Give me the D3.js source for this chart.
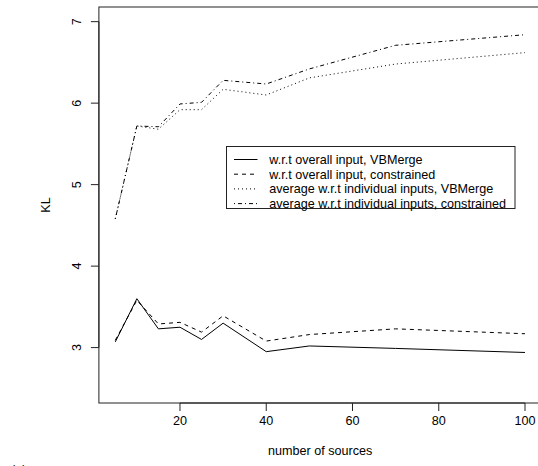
<!DOCTYPE html>
<html><head><meta charset="utf-8">
<script src="https://cdn.jsdelivr.net/npm/d3@7"></script>
<style>body{margin:0;background:#fff}svg{display:block}text{font-family:"Liberation Sans",Arial,sans-serif;fill:#000}</style>
</head><body>
<svg id="c" width="538" height="466"></svg>
<script>
const sources = [5, 10, 15, 20, 25, 30, 40, 50, 70, 100];
const overallVB = [3.07, 3.60, 3.23, 3.25, 3.10, 3.30, 2.95, 3.02, 2.99, 2.94];
const overallCon = [3.09, 3.58, 3.29, 3.31, 3.19, 3.39, 3.08, 3.16, 3.23, 3.17];
const avgVB = [4.58, 5.72, 5.68, 5.92, 5.92, 6.17, 6.10, 6.31, 6.48, 6.62];
const avgCon = [4.58, 5.72, 5.71, 5.99, 6.01, 6.28, 6.235, 6.42, 6.71, 6.84];
const xTicks = [20, 40, 60, 80, 100];
const yTicks = [3, 4, 5, 6, 7];
const seriesNames = ["w.r.t overall input, VBMerge", "w.r.t overall input, constrained",
  "average w.r.t individual inputs, VBMerge", "average w.r.t individual inputs, constrained"];
const dashes = [null, "4,4", "1,3", "1,3,4,3"];
const seriesVals = [overallVB, overallCon, avgVB, avgCon];

const svg = d3.select("#c");
const FS = "12.6px";
const xD = [5, 100], yD = [2.5, 7];
const xe = (xD[1]-xD[0])*0.04, ye = (yD[1]-yD[0])*0.04;
const x = d3.scaleLinear().domain([xD[0]-xe, xD[1]+xe]).range([98.9, 541.4]);
const y = d3.scaleLinear().domain([yD[0]-ye, yD[1]+ye]).range([403, 7]);

// box
svg.append("rect").attr("x", x.range()[0]).attr("y", y.range()[1])
  .attr("width", x.range()[1]-x.range()[0]).attr("height", y.range()[0]-y.range()[1])
  .attr("fill","none").attr("stroke","#222").attr("stroke-width",1);

// x axis
const xa = svg.append("g").attr("transform", `translate(0,${y.range()[0]})`);
xa.append("line").attr("x1", x(xTicks[0])).attr("x2", x(xTicks[xTicks.length-1])).attr("stroke","#222");
xTicks.forEach(t => {
  xa.append("line").attr("x1", x(t)).attr("x2", x(t)).attr("y1", 0).attr("y2", 8).attr("stroke","#222");
  xa.append("text").attr("x", x(t)).attr("y", 21.5).attr("text-anchor","middle").style("font-size",FS).text(t);
});
svg.append("text").attr("x", (x.range()[0]+x.range()[1])/2).attr("y", 455).attr("text-anchor","middle").style("font-size",FS).text("number of sources");

// y axis
const ya = svg.append("g").attr("transform", `translate(${x.range()[0]},0)`);
ya.append("line").attr("y1", y(yTicks[0])).attr("y2", y(yTicks[yTicks.length-1])).attr("stroke","#222");
yTicks.forEach(t => {
  ya.append("line").attr("x1", -8).attr("x2", 0).attr("y1", y(t)).attr("y2", y(t)).attr("stroke","#222");
  ya.append("text").attr("transform", `translate(-17.5,${y(t)}) rotate(-90)`).attr("text-anchor","middle").style("font-size",FS).text(t);
});
svg.append("text").attr("transform", `translate(49.5,${(y.range()[0]+y.range()[1])/2}) rotate(-90)`).attr("text-anchor","middle").style("font-size",FS).text("KL");

// lines
const line = d3.line().x((d,i) => x(sources[i])).y(d => y(d));
seriesVals.forEach((vals, k) => {
  svg.append("path").datum(vals).attr("d", line).attr("fill","none").attr("stroke","#000")
    .attr("stroke-width",1).attr("stroke-dasharray", dashes[k]);
});

// legend
const lg = svg.append("g");
lg.append("rect").attr("x", 226.5).attr("y", 146.5).attr("width", 288.5).attr("height", 62)
  .attr("fill","#fff").attr("stroke","#222");
seriesNames.forEach((n, k) => {
  const yy = 159.5 + k*14.7;
  lg.append("line").attr("x1", 234).attr("x2", 257.5).attr("y1", yy).attr("y2", yy)
    .attr("stroke","#000").attr("stroke-dasharray", dashes[k]);
  lg.append("text").attr("x", 269.3).attr("y", yy + 4.5).style("font-size",FS).text(n);
});

svg.append("text").attr("x", 11).attr("y", 474).style("font-size",FS).text("(a)");
</script>
</body></html>
